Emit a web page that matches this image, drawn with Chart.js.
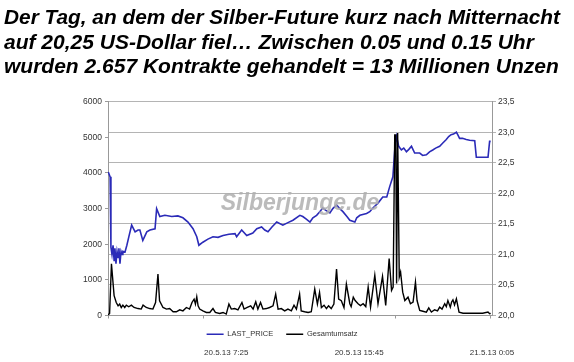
<!DOCTYPE html>
<html>
<head>
<meta charset="utf-8">
<script src="https://cdn.jsdelivr.net/npm/chart.js@4/dist/chart.umd.min.js"></script>
<style>
  html, body { margin: 0; padding: 0; background: #fff; }
  #chart { display: block; }
</style>
</head>
<body>
<canvas id="chart" width="574" height="362"></canvas>
<script>
const titleLines = [
    "Der Tag, an dem der Silber-Future kurz nach Mitternacht",
    "auf 20,25 US-Dollar fiel… Zwischen 0.05 und 0.15 Uhr",
    "wurden 2.657 Kontrakte gehandelt = 13 Millionen Unzen"
];

// minutes since 20.5.13 0:00
const xTickMinutes = [0, 360, 720, 1080, 1440];
const xLabelMinutes = [445, 945, 1445];
const xLabels = ["20.5.13 7:25", "20.5.13 15:45", "21.5.13 0:05"];

const priceMinutes = [1, 8, 11, 15, 19, 23, 26, 30, 34, 38, 41, 45, 49, 53, 56, 64, 71, 79, 89, 102,
    113, 120, 131, 146, 158, 177, 183, 195, 214, 240, 263, 282, 301, 320, 334, 342, 357, 376, 395, 414,
    433, 455, 478, 484, 503, 522, 545, 560, 578, 590, 602, 617, 635, 658, 677, 696, 722, 733, 745, 760,
    771, 785, 797, 808, 820, 835, 846, 860, 872, 884, 899, 910, 929, 936, 948, 973, 985, 997, 1016, 1034,
    1049, 1060, 1072, 1079, 1086, 1094, 1104, 1113, 1123, 1132, 1142, 1154, 1173, 1184, 1198, 1210, 1222, 1233, 1248, 1259,
    1273, 1282, 1291, 1300, 1311, 1316, 1323, 1334, 1348, 1361, 1380, 1386, 1430, 1436, 1440];
const priceValues = [22.35, 22.27, 21.12, 21.0, 21.15, 20.9, 21.1, 20.85, 21.05, 20.95, 21.1, 20.85, 21.05, 21.0, 21.05, 21.04, 21.15, 21.3, 21.48, 21.37,
    21.4, 21.4, 21.23, 21.37, 21.4, 21.42, 21.75, 21.62, 21.64, 21.62, 21.63, 21.6, 21.53, 21.42, 21.29, 21.15, 21.2, 21.25, 21.29, 21.28,
    21.31, 21.33, 21.34, 21.29, 21.4, 21.31, 21.35, 21.42, 21.45, 21.4, 21.37, 21.45, 21.53, 21.48, 21.52, 21.56, 21.64, 21.62, 21.58, 21.53,
    21.6, 21.64, 21.7, 21.76, 21.72, 21.68, 21.75, 21.81, 21.75, 21.7, 21.62, 21.56, 21.53, 21.6, 21.64, 21.67, 21.7, 21.76, 21.84, 21.94,
    21.94, 22.11, 22.27, 22.71, 22.93, 22.77, 22.71, 22.74, 22.68, 22.72, 22.77, 22.66, 22.66, 22.62, 22.63, 22.68, 22.71, 22.74, 22.77, 22.82,
    22.88, 22.93, 22.96, 22.97, 23.0, 22.96, 22.9, 22.9, 22.88, 22.87, 22.86, 22.59, 22.59, 22.85, 22.85];

const volumeMinutes = [0, 6, 13, 23, 31, 38, 44, 50, 56, 63, 69, 78, 88, 98, 113, 125, 132, 144, 157, 169,
    179, 188, 194, 207, 220, 232, 245, 257, 270, 282, 295, 307, 316, 324, 329, 334, 339, 345, 357, 370,
    383, 395, 404, 420, 433, 445, 455, 464, 477, 489, 504, 512, 524, 537, 546, 556, 564, 574, 583, 596,
    608, 621, 631, 640, 652, 665, 677, 690, 700, 709, 721, 727, 740, 753, 765, 778, 788, 796, 803, 813,
    822, 830, 840, 850, 860, 868, 878, 888, 897, 910, 915, 923, 930, 941, 950, 960, 970, 979, 988, 1004,
    1016, 1033, 1045, 1058, 1067, 1073, 1079, 1083, 1086, 1090, 1096, 1101, 1109, 1117, 1129, 1138, 1148, 1157, 1163, 1173,
    1185, 1198, 1207, 1217, 1229, 1240, 1248, 1257, 1267, 1273, 1279, 1288, 1293, 1298, 1304, 1311, 1321, 1336, 1373, 1410,
    1430, 1436, 1440];
const volumeValues = [10, 60, 1450, 555, 365, 270, 320, 225, 290, 225, 290, 245, 290, 225, 195, 180, 290, 225, 195, 180,
    365, 1165, 415, 225, 180, 195, 105, 105, 160, 130, 225, 180, 365, 460, 320, 525, 270, 180, 130, 85,
    85, 195, 85, 55, 85, 40, 320, 180, 195, 160, 365, 180, 225, 270, 180, 385, 180, 365, 180, 195,
    225, 270, 600, 180, 195, 130, 180, 130, 290, 180, 600, 130, 105, 85, 105, 740, 320, 650, 225, 290,
    195, 270, 195, 320, 1305, 460, 415, 225, 880, 330, 250, 515, 420, 330, 280, 330, 250, 800, 235, 1130,
    330, 1100, 280, 1600, 705, 800, 5070, 5070, 895, 5120, 1080, 1220, 655, 420, 515, 330, 375, 940, 420, 140,
    120, 95, 215, 95, 160, 130, 235, 180, 330, 250, 420, 235, 380, 440, 300, 470, 95, 65, 65, 65,
    95, 50, 60];

const toPoints = (xs, ys) => xs.map((x, i) => ({ x: x, y: ys[i] }));

const fontFamily = "'Liberation Sans', Arial, sans-serif";
const axisFont = { family: fontFamily, size: 8.5 };
const axisColor = "#999";

// light grey watermark across the middle of the plot
const watermark = {
    id: "watermark",
    afterDatasetsDraw(chart) {
        const { ctx, chartArea } = chart;
        ctx.save();
        ctx.font = "italic bold 23px " + fontFamily;
        ctx.fillStyle = "rgba(175, 175, 175, 0.85)";
        ctx.textAlign = "center";
        ctx.textBaseline = "middle";
        ctx.fillText("Silberjunge.de", (chartArea.left + chartArea.right) / 2, (chartArea.top + chartArea.bottom) / 2 - 5);
        ctx.restore();
    }
};

new Chart(document.getElementById("chart"), {
    type: "line",
    data: {
        datasets: [{
            label: "LAST_PRICE",
            data: toPoints(priceMinutes, priceValues),
            yAxisID: "y1",
            borderColor: "#2b2bb8",
            borderWidth: 1.6,
            pointRadius: 0,
            tension: 0,
            order: 1
        }, {
            label: "Gesamtumsatz",
            data: toPoints(volumeMinutes, volumeValues),
            yAxisID: "y",
            borderColor: "#000",
            borderWidth: 1.4,
            pointRadius: 0,
            tension: 0,
            order: 0
        }]
    },
    options: {
        responsive: false,
        animation: false,
        devicePixelRatio: 1,
        layout: {
            padding: { left: 4, right: 14, top: 6, bottom: 0 }
        },
        plugins: {
            title: {
                display: true,
                text: titleLines,
                align: "start",
                color: "#000",
                font: { family: fontFamily, size: 21, weight: "bold", style: "italic", lineHeight: 1.17 },
                padding: { top: 0, bottom: 22 }
            },
            legend: {
                position: "bottom",
                labels: {
                    usePointStyle: true,
                    pointStyle: "line",
                    pointStyleWidth: 17,
                    color: "#333",
                    font: { family: fontFamily, size: 7.5 },
                    padding: 13,
                    sort: (a, b) => a.datasetIndex - b.datasetIndex
                }
            },
            tooltip: { enabled: false }
        },
        scales: {
            x: {
                type: "linear",
                position: "bottom",
                min: 0,
                max: 1445,
                afterBuildTicks: (scale) => { scale.ticks = xTickMinutes.map(v => ({ value: v })); },
                afterFit: (scale) => { scale.height = 2; },
                ticks: { display: false },
                grid: { drawOnChartArea: false, tickLength: 3, color: axisColor },
                border: { color: axisColor }
            },
            xl: {
                type: "linear",
                position: "bottom",
                weight: 2000,
                min: 0,
                max: 1445,
                afterBuildTicks: (scale) => { scale.ticks = xLabelMinutes.map(v => ({ value: v })); },
                afterFit: (scale) => { scale.height = 14; },
                ticks: {
                    autoSkip: false,
                    maxRotation: 0,
                    padding: 0,
                    color: "#333",
                    font: { family: fontFamily, size: 8 },
                    callback: (value, index) => xLabels[index]
                },
                grid: { display: false, drawTicks: false },
                border: { display: false }
            },
            y: {
                position: "left",
                min: 0,
                max: 6000,
                afterFit: (scale) => { scale.width = 104; },
                ticks: {
                    stepSize: 1000,
                    padding: 3,
                    color: "#333",
                    font: axisFont,
                    callback: (value) => String(value)
                },
                grid: { drawOnChartArea: false, tickLength: 3, color: axisColor },
                border: { color: axisColor }
            },
            y1: {
                position: "right",
                min: 20,
                max: 23.5,
                afterFit: (scale) => { scale.width = 68; },
                ticks: {
                    stepSize: 0.5,
                    padding: 2,
                    color: "#333",
                    font: axisFont,
                    callback: (value) => value.toFixed(1).replace(".", ",")
                },
                grid: { color: "#b4b4b4", tickLength: 4 },
                border: { color: axisColor }
            }
        }
    },
    plugins: [watermark]
});
</script>
</body>
</html>
